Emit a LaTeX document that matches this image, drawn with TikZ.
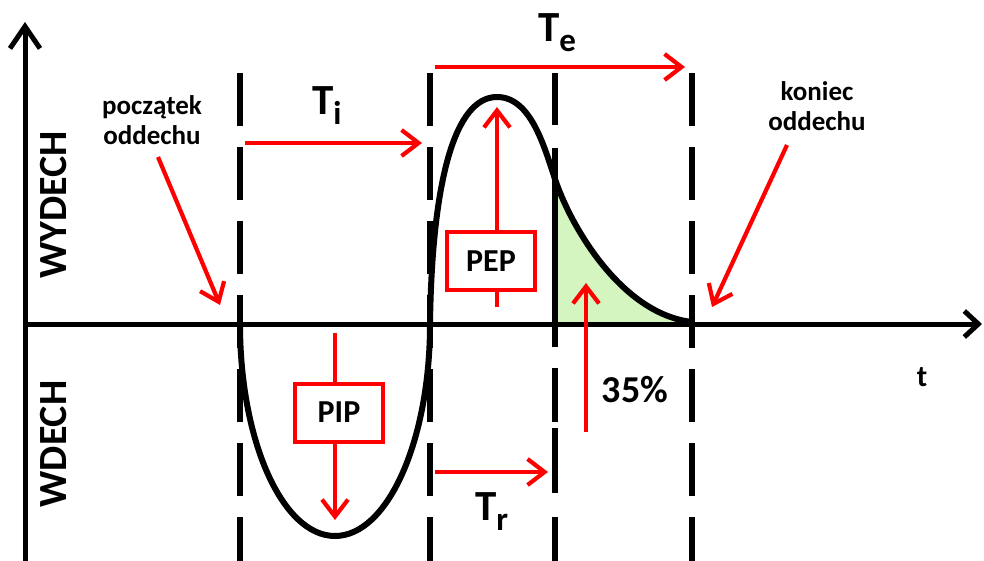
\documentclass[tikz,border=0pt]{standalone}
\usepackage{fontspec}
\setmainfont{Carlito}
\usetikzlibrary{arrows.meta}
\definecolor{lgreen}{RGB}{212,245,192}
\begin{document}
\begin{tikzpicture}[x=1pt,y=-1pt,
 txt/.style={inner sep=0pt},
 redln/.style={draw=red, line width=4.2pt},
 redarr/.style={redln, -{Straight Barb[length=17pt,width=26pt]}},
 dashln/.style={line width=5.5pt, dash pattern=on 53pt off 21pt},
 curveln/.style={line width=6pt, line join=round},
 boxnode/.style={draw=red, line width=4pt, minimum width=88pt, minimum height=58pt, inner sep=0pt, font=\fontsize{32}{32}\selectfont\bfseries},
 axisln/.style={line width=5pt}
]
\useasboundingbox (0,0) rectangle (984,561);
% green area
\fill[lgreen] (555,324) -- (555,182) .. controls (572,228) and (622,314) .. (692,322) -- (692,324) -- cycle;
% dashed vertical lines
\foreach \x in {240,430,692} \draw[dashln] (\x,73) -- (\x,561);
\draw[line width=5.5pt, dash pattern=on 52pt off 23pt on 199pt off 21pt on 54pt off 6pt on 65pt off 24pt on 100pt] (555,73) -- (555,561);
% axes
\coordinate (o) at (25,324);
\coordinate (ytop) at (25,22);
\coordinate (ybot) at (25,561);
\coordinate (xend) at (982,324);
\draw[axisln, -{Straight Barb[length=22pt,width=30pt]}] (ybot) -- (ytop);
\draw[axisln, -{Straight Barb[length=14pt,width=26pt]}] (o) -- (xend);
% breathing curve
\draw[curveln] (240,324) arc[start angle=180, end angle=0, x radius=95, y radius=212]
  .. controls (432,180) and (455,97) .. (497,97)
  .. controls (532,97) and (545,150) .. (556,182)
  .. controls (572,228) and (622,314) .. (692,322);
% boxes
\node[boxnode] (pip) at (339,412.5) {PIP};
\node[boxnode] (pep) at (491,261) {PEP};
\coordinate (pipA) at (335,333);
\coordinate (pipB) at (335,520);
\draw[redln] (pipA) -- (pipA |- pip.north);
\draw[redarr] (pipB |- pip.south) -- (pipB);
\coordinate (pepA) at (497,307);
\coordinate (pepB) at (497,107);
\draw[redln] (pepA) -- (pepA |- pep.south);
\draw[redarr] (pepB |- pep.north) -- (pepB);
% time arrows
\coordinate (ti1) at (245,143); \coordinate (ti2) at (422,143);
\coordinate (te1) at (435,67); \coordinate (te2) at (685,67);
\coordinate (tr1) at (435,472); \coordinate (tr2) at (548,472);
\draw[redarr] (ti1) -- (ti2);
\draw[redarr] (te1) -- (te2);
\draw[redarr] (tr1) -- (tr2);
% labels
\node[txt, anchor=base west, font=\fontsize{43}{43}\selectfont\bfseries] (ti) at (312,115) {T\raisebox{-10pt}{\fontsize{33}{33}\selectfont i}};
\node[txt, anchor=base west, font=\fontsize{43}{43}\selectfont\bfseries] (te) at (538,42) {T\raisebox{-10pt}{\fontsize{33}{33}\selectfont e}};
\node[txt, anchor=base west, font=\fontsize{43}{43}\selectfont\bfseries] (tr) at (475,520) {T\raisebox{-10pt}{\fontsize{33}{33}\selectfont r}};
\node[txt, rotate=90, font=\fontsize{40}{40}\selectfont\bfseries] (wy) at (54,205) {WYDECH};
\node[txt, rotate=90, font=\fontsize{40}{40}\selectfont\bfseries] (wd) at (54,444) {WDECH};
\node[txt, font=\fontsize{30}{30}\selectfont\bfseries] (t) at (922,377) {t};
\node[txt, font=\fontsize{38}{38}\selectfont\bfseries] (pct) at (635,390) {35\%};
\node[txt, align=center, anchor=base, font=\fontsize{27}{30}\selectfont\bfseries] (start) at (152,145) {początek\\oddechu};
\node[txt, align=center, anchor=base, font=\fontsize{27}{30}\selectfont\bfseries] (end) at (817,131) {koniec\\oddechu};
% pointer arrows
\coordinate (s1) at (158,157); \coordinate (s2) at (220,305);
\coordinate (e1) at (787,145); \coordinate (e2) at (712,307);
\coordinate (p1) at (586,432); \coordinate (p2) at (586,283);
\draw[redarr] (s1) -- (s2);
\draw[redarr] (e1) -- (e2);
\draw[redarr] (p1) -- (p2);
\end{tikzpicture}
\end{document}
